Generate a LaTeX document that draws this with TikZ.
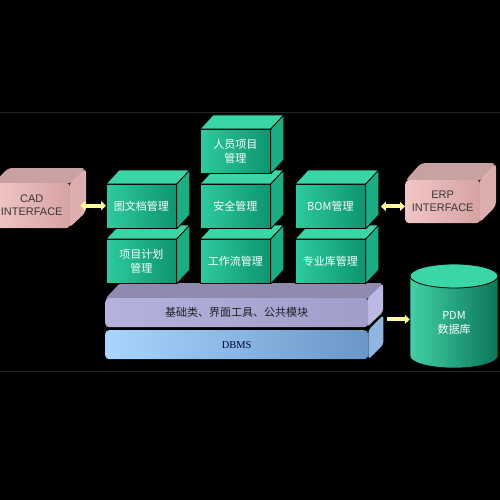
\documentclass[tikz,border=0pt]{standalone}
\usepackage{fontspec}
\setmainfont{Liberation Serif}
\newfontfamily\cjk{Noto Sans CJK SC}
\newfontfamily\arialf{Liberation Sans}
\usetikzlibrary{arrows.meta,calc}
\definecolor{gL}{HTML}{2CCB9C}
\definecolor{gR}{HTML}{0E9470}
\definecolor{gTop}{HTML}{3AD6A8}
\definecolor{gSide}{HTML}{1AAE84}
\definecolor{pL}{HTML}{F2C6C6}
\definecolor{pR}{HTML}{D6A2A2}
\definecolor{pTop}{HTML}{C9A1A1}
\definecolor{pSide}{HTML}{DDAEAE}
\definecolor{vL}{HTML}{B6B2DE}
\definecolor{vR}{HTML}{A19DCA}
\definecolor{vTop}{HTML}{8E8AB0}
\definecolor{vSide}{HTML}{BABAE2}
\definecolor{bL}{HTML}{A8D6FE}
\definecolor{bR}{HTML}{6A96C6}
\definecolor{bSide}{HTML}{8EB6E0}
\definecolor{yel}{HTML}{FFFF99}
\definecolor{rule}{HTML}{262626}
\tikzset{
  gfront/.style={draw=black, line width=0.8pt, left color=gL, right color=gR,
    minimum width=70pt, minimum height=44pt, inner sep=0pt, anchor=north west,
    text=white, font=\cjk\fontsize{11}{14}\selectfont, align=center},
  gtop/.style={fill=gTop, draw=black, line width=0.8pt, line join=round},
  gside/.style={fill=gSide, draw=black, line width=0.8pt, line join=round},
  pfront/.style={rounded corners=4pt, left color=pL, right color=pR, inner sep=0pt,
    anchor=north west, text=black!78, font=\arialf\fontsize{11}{13}\selectfont, align=center},
  ptop/.style={fill=pTop, rounded corners=4pt},
  pside/.style={fill=pSide, rounded corners=4pt},
  slabfront/.style={rounded corners=4pt, inner sep=0pt, anchor=north west,
    minimum width=263pt, minimum height=29pt},
  yarrow/.style={draw=yel, line width=4pt},
  tips2/.style={{Triangle[length=5pt,width=9pt]}-{Triangle[length=5pt,width=9pt]}},
  tip1/.style={-{Triangle[length=5pt,width=9pt]}},
  rulel/.style={draw=rule, line width=1pt},
}
\newcommand\gbox[4]{%
  \node[gfront] (#1) at (#2,#3) {#4};
  \filldraw[gtop] (#1.north west) -- ++(13,-14) -- ($(#1.north east)+(13,-14)$) -- (#1.north east) -- cycle;
  \filldraw[gside] (#1.north east) -- ++(13,-14) -- ($(#1.south east)+(13,-14)$) -- (#1.south east) -- cycle;
}
\begin{document}
\begin{tikzpicture}[x=1pt,y=-1pt]
\fill[black] (0,0) rectangle (500,500);
\useasboundingbox (0,0) rectangle (500,500);
\draw[rulel] (0,113) -- (500,113);
\draw[rulel] (0,371) -- (500,371);

% CAD interface
\fill[ptop] (-7,184) -- (8,168) -- (86,168) -- (70,184) -- cycle;
\fill[pside] (69,184) -- (86,168) -- (86,212) -- (69,228) -- cycle;
\node[pfront, minimum width=77pt, minimum height=45pt] (cad) at (-7,183) {CAD\\INTERFACE};

% ERP interface
\fill[ptop] (405,181) -- (421,163) -- (496,163) -- (480,181) -- cycle;
\fill[pside] (479,181) -- (496,163) -- (496,206) -- (479,223) -- cycle;
\node[pfront, minimum width=75pt, minimum height=43pt] (erp) at (405,180) {ERP\\INTERFACE};

% DBMS slab
\node[slabfront, left color=bL, right color=bR, text=black!70!blue!80!black,
  font=\fontsize{10.5}{12}\selectfont] (dbms) at (105,330) {DBMS};
\fill[bSide, rounded corners=3pt] (dbms.north east) -- ++(15,-15) -- ($(dbms.south east)+(15,-15)$) -- (dbms.south east) -- cycle;

% base slab
\fill[vTop, rounded corners=3pt] (105,299) -- (120,283) -- (383,283) -- (368,299) -- cycle;
\fill[vSide, rounded corners=3pt] (367,299) -- (383,283) -- (383,312) -- (367,327) -- cycle;
\node[slabfront, left color=vL, right color=vR, text=black!88,
  font=\cjk\fontsize{11}{13}\selectfont] (base) at (105,298) {基础类、界面工具、公共模块};

% PDM cylinder
\fill[left color=gL!90!white, right color=gR!80!black, draw=black, line width=0.6pt]
  (410,276) -- (410,356) arc[start angle=180, end angle=360, x radius=44pt, y radius=12pt] -- (498,276) -- cycle;
\filldraw[fill=gTop, draw=black, line width=0.8pt] (454,276) ellipse [x radius=44pt, y radius=12pt];
\node[minimum width=88pt, inner sep=0pt, text=white, align=center,
  font=\cjk\fontsize{11}{14}\selectfont] (pdm) at (454,323) {PDM\\数据库};

% green boxes: bottom row, middle row, top
\gbox{xiangmu}{106}{239}{项目计划\\管理}
\gbox{gongzuo}{200}{239}{工作流管理}
\gbox{zhuanye}{295}{239}{专业库管理}
\gbox{tuwen}{106}{184}{图文档管理}
\gbox{anquan}{200}{184}{安全管理}
\gbox{bom}{295}{184}{BOM管理}
\gbox{renyuan}{200}{129}{人员项目\\管理}

% arrows
\coordinate (cadR) at ($(cad.east)+(10,0)$);
\draw[yarrow, tips2] (cadR) -- (cadR -| tuwen.west);
\coordinate (bomR) at ($(bom.east)+(15,0)$);
\draw[yarrow, tips2] (bomR) -- (bomR -| erp.west);
\coordinate (baseR) at ($(base.south east)+(19,-8)$);
\draw[yarrow, tip1] (baseR) -- (baseR -| pdm.west);
\end{tikzpicture}
\end{document}
